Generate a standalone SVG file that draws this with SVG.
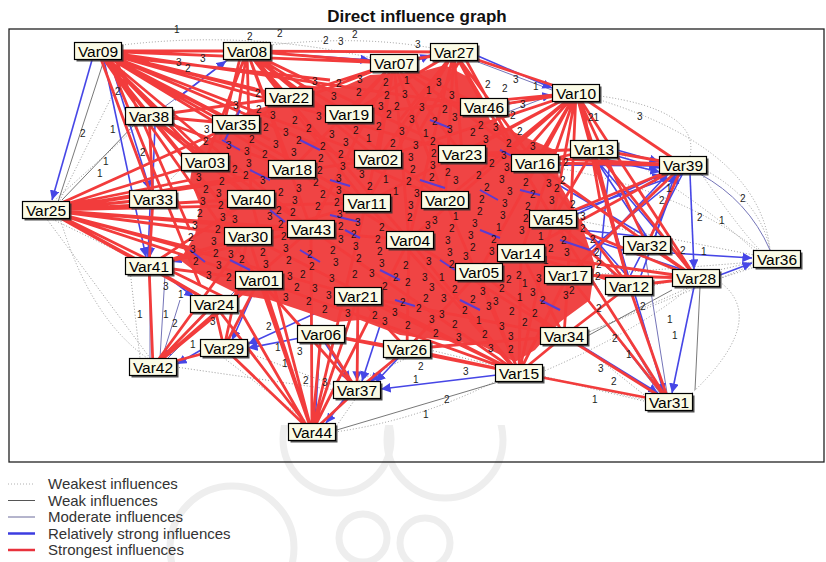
<svg xmlns="http://www.w3.org/2000/svg" width="826" height="562" viewBox="0 0 826 562">
<style>
.s5{fill:none;stroke:#f23c3c;stroke-width:2.8}
.s4{fill:none;stroke:#4646e6;stroke-width:1.6}
.s3{fill:none;stroke:#7474b8;stroke-width:1}
.s2{fill:none;stroke:#555;stroke-width:.8}
.s1{fill:none;stroke:#9a9a9a;stroke-width:1;stroke-dasharray:1 2}
.cb{fill:none;stroke:#5a3cd2;stroke-width:2}
.n text{font-family:"Liberation Sans",Arial,sans-serif;font-size:10px;fill:#1c1010}
.p text{font-family:"Liberation Sans",Arial,sans-serif;font-size:10px;fill:#222}
.sh{fill:#333;opacity:.85}
.bx{fill:#fbfbe6;stroke:#000;stroke-width:1.2}
.lb{font-family:"Liberation Sans",Arial,sans-serif;font-size:15.5px;fill:#000;text-anchor:middle}
.lg{font-family:"Liberation Sans",Arial,sans-serif;font-size:15px;fill:#333}
.wm{fill:none;stroke:#eeeeee;stroke-width:7}
</style>
<defs>
<marker id="ab" viewBox="0 0 10 10" refX="10" refY="5" markerWidth="6" markerHeight="6" orient="auto"><path d="M0 0L10 5L0 10z" fill="#4646e6"/></marker>
<clipPath id="wc"><rect x="0" y="425" width="826" height="137"/></clipPath>
</defs>
<rect width="826" height="562" fill="#fff"/>
<g id="watermark" clip-path="url(#wc)">
<circle class="wm" cx="337" cy="439" r="54"/>
<circle class="wm" cx="445" cy="440" r="58"/>
<circle class="wm" cx="363" cy="538" r="24"/>
<circle class="wm" cx="425" cy="543" r="25"/>
<circle class="wm" cx="232" cy="548" r="62"/>
</g>
<text x="417" y="22" font-family="Liberation Sans,Arial,sans-serif" font-size="17" font-weight="bold" text-anchor="middle" fill="#111">Direct influence graph</text>
<rect x="9" y="29" width="815" height="433" fill="none" stroke="#222" stroke-width="1.3"/>
<g id="connectors">
<g id="weakest">
<path class="s1" d="M46 218L150 358M50 218L140 262M140 124L55 200M130 60L60 200M651 286L753 262M590 275L754 262M575 220L754 255M617 152Q700 200 756 252M558 168Q680 190 758 250M586 333L755 264M700 172Q740 230 760 250M705 170Q760 200 770 250M542 376L646 400M500 280L648 398M430 350L648 402M335 428L356 398M335 432Q420 420 498 380M310 424L220 355M176 367L335 390M246 352L336 386M122 45Q250 30 372 58M270 45Q360 35 432 48M600 96Q700 110 690 156M600 100Q760 150 770 250M542 372Q640 330 690 287M720 282Q770 320 690 395M60 218Q90 320 150 360M240 110L150 200M700 285L770 262M560 345L690 287M420 352L356 382M130 270L140 358"/>
</g>
<g id="weak">
<path class="s2" d="M135 124L62 200M104 60L58 202M160 200L60 208M330 432L505 380M580 340L672 290M700 287L695 390"/>
</g>
<g id="moderate">
<path class="s3" d="M700 174Q748 200 770 250M645 254L667 393M575 284L660 393M560 225L662 395M500 115L552 95M478 62L552 90M410 72L470 100M160 110L228 60M150 270L150 358M165 275L160 358M180 300L162 358M236 290L166 360"/>
</g>
<g id="relatively-strong">
<line class="s4" x1="92" y1="60" x2="52" y2="200" marker-end="url(#ab)"/>
<line class="s4" x1="104" y1="60" x2="146" y2="257" marker-end="url(#ab)"/>
<line class="s4" x1="110" y1="60" x2="150" y2="190" marker-end="url(#ab)"/>
<line class="s4" x1="155" y1="125" x2="150" y2="257" marker-end="url(#ab)"/>
<line class="s4" x1="150" y1="208" x2="148" y2="257" marker-end="url(#ab)"/>
<line class="s4" x1="205" y1="313" x2="162" y2="358" marker-end="url(#ab)"/>
<line class="s4" x1="201" y1="350" x2="177" y2="364" marker-end="url(#ab)"/>
<line class="s4" x1="230" y1="240" x2="172" y2="262" marker-end="url(#ab)"/>
<line class="s4" x1="165" y1="275" x2="194" y2="297" marker-end="url(#ab)"/>
<line class="s4" x1="240" y1="288" x2="237" y2="297" marker-end="url(#ab)"/>
<line class="s4" x1="300" y1="338" x2="248" y2="348" marker-end="url(#ab)"/>
<line class="s4" x1="340" y1="302" x2="248" y2="344" marker-end="url(#ab)"/>
<line class="s4" x1="255" y1="289" x2="232" y2="340" marker-end="url(#ab)"/>
<line class="s4" x1="325" y1="343" x2="350" y2="381" marker-end="url(#ab)"/>
<line class="s4" x1="395" y1="358" x2="370" y2="382" marker-end="url(#ab)"/>
<line class="s4" x1="358" y1="305" x2="357" y2="381" marker-end="url(#ab)"/>
<line class="s4" x1="405" y1="249" x2="362" y2="381" marker-end="url(#ab)"/>
<line class="s4" x1="470" y1="281" x2="376" y2="382" marker-end="url(#ab)"/>
<line class="s4" x1="497" y1="375" x2="381" y2="389" marker-end="url(#ab)"/>
<line class="s4" x1="320" y1="343" x2="315" y2="423" marker-end="url(#ab)"/>
<line class="s4" x1="345" y1="398" x2="326" y2="423" marker-end="url(#ab)"/>
<line class="s4" x1="580" y1="345" x2="658" y2="393" marker-end="url(#ab)"/>
<line class="s4" x1="635" y1="295" x2="664" y2="393" marker-end="url(#ab)"/>
<line class="s4" x1="694" y1="287" x2="672" y2="393" marker-end="url(#ab)"/>
<line class="s4" x1="671" y1="253" x2="752" y2="258" marker-end="url(#ab)"/>
<line class="s4" x1="720" y1="275" x2="752" y2="263" marker-end="url(#ab)"/>
<line class="s4" x1="690" y1="174" x2="694" y2="269" marker-end="url(#ab)"/>
<line class="s4" x1="617" y1="150" x2="659" y2="162" marker-end="url(#ab)"/>
<line class="s4" x1="617" y1="156" x2="659" y2="168" marker-end="url(#ab)"/>
<line class="s4" x1="600" y1="158" x2="660" y2="172" marker-end="url(#ab)"/>
<line class="s4" x1="558" y1="165" x2="659" y2="166" marker-end="url(#ab)"/>
<line class="s4" x1="575" y1="215" x2="662" y2="174" marker-end="url(#ab)"/>
<line class="s4" x1="580" y1="267" x2="668" y2="174" marker-end="url(#ab)"/>
<line class="s4" x1="655" y1="237" x2="675" y2="174" marker-end="url(#ab)"/>
<line class="s4" x1="640" y1="278" x2="678" y2="174" marker-end="url(#ab)"/>
<line class="s4" x1="478" y1="56" x2="552" y2="88" marker-end="url(#ab)"/>
<line class="s4" x1="508" y1="104" x2="552" y2="95" marker-end="url(#ab)"/>
<line class="s4" x1="418" y1="60" x2="430" y2="55" marker-end="url(#ab)"/>
<line class="s4" x1="271" y1="53" x2="370" y2="60" marker-end="url(#ab)"/>
<line class="s4" x1="175" y1="100" x2="226" y2="61" marker-end="url(#ab)"/>
<path class="s4" d="M594 157L647 237M594 157L629 278M594 157L690 270M535 171L629 278M535 171L647 237M553 227L647 237M553 227L690 272M683 173L629 278M683 173L568 267M683 173L553 219M610 160L600 260M540 200L620 280"/>
</g>
<polygon id="dense-core" points="215,135 250,110 275,105 300,85 340,88 370,75 420,72 445,65 470,78 490,120 520,135 555,150 560,185 575,210 585,235 595,265 590,300 560,322 535,350 515,362 480,345 440,340 400,335 360,320 335,322 300,310 270,300 240,295 220,285 200,275 180,260 195,235 200,205 190,180 195,150" fill="#f04444"/>
<g id="strongest">
<path class="s5" d="M98 51L247 51M98 51L289 97M98 51L349 114M98 51L236 124M98 51L292 169M98 51L378 159M98 51L205 162M98 51L251 199M98 51L366 203M98 51L311 229M98 51L153 199M98 51L248 236M98 51L394 63M98 51L149 116M98 51L462 154M98 51L445 200M98 51L409 240M98 51L259 280M98 51L484 107M110 56L330 80M112 58L270 140M115 58L190 230M108 58L200 285"/>
<path class="s5" d="M46 210L153 199M46 210L205 162M46 210L251 199M46 210L248 236M46 210L311 229M46 210L149 266M46 210L259 280M46 210L292 169M46 210L236 124M46 210L214 304M46 210L366 203M46 210L409 240M46 210L358 296M46 210L378 159M60 214L200 250M60 206L190 180M60 216L230 300"/>
<path class="s5" d="M247 51L394 63M247 51L289 97M247 51L349 114M247 51L236 124M247 51L292 169M247 51L378 159M247 51L366 203M247 51L251 199M247 51L205 162M247 51L311 229M247 51L462 154M247 51L445 200M247 51L454 52M247 51L409 240M255 58L330 150M240 58L220 140"/>
<path class="s5" d="M394 63L349 114M394 63L289 97M394 63L378 159M394 63L292 169M394 63L366 203M394 63L462 154M394 63L445 200M394 63L409 240M394 63L311 229M394 63L484 107M394 63L236 124M394 63L454 52M394 63L535 163"/>
<path class="s5" d="M454 52L484 107M454 52L462 154M454 52L378 159M454 52L445 200M454 52L349 114M454 52L366 203M454 52L576 93M454 52L535 163M454 52L409 240M454 52L553 219M460 60L420 130M448 60L400 120M466 60L510 140"/>
<path class="s5" d="M576 93L484 107M576 93L462 154M576 93L535 163M576 93L594 149M576 93L445 200M576 93L553 219M576 93L683 165M576 93L521 253M576 93L378 159M576 93L349 114M576 93L409 240M576 93L479 272M576 93L568 275M576 93L647 245M576 93L366 203M576 93L629 286M570 100L500 180M582 100L600 200"/>
<path class="s5" d="M149 116L236 124M149 116L205 162M149 116L292 169M149 116L251 199M149 116L153 199M149 116L289 97M149 116L248 236M149 116L311 229"/>
<path class="s5" d="M149 266L153 367M149 266L248 236M149 266L259 280M149 266L311 229M149 266L214 304M149 266L251 199M149 266L153 199M149 266L366 203"/>
<path class="s5" d="M153 367L214 304M153 367L259 280M153 367L248 236M153 367L224 348M153 367L311 229"/>
<path class="s5" d="M312 432L214 304M312 432L259 280M312 432L248 236M312 432L321 334M312 432L358 296M312 432L311 229M312 432L357 390M312 432L224 348M312 432L409 240M312 432L251 199M312 432L366 203M306 425L240 310"/>
<path class="s5" d="M519 373L564 336M519 373L479 272M519 373L409 240M519 373L521 253M519 373L568 275M519 373L358 296M519 373L407 349M519 373L321 334M519 373L366 203M519 373L445 200M519 373L259 280M519 373L669 402M519 373L553 219M519 373L311 229M519 373L248 236M512 366L470 320"/>
<path class="s5" d="M669 402L564 336M669 402L629 286M669 402L568 275M669 402L553 219"/>
<path class="s5" d="M696 278L647 245M696 278L629 286M696 278L568 275M696 278L594 149M696 278L535 163M696 278L553 219M696 278L521 253M696 278L576 93"/>
<path class="s5" d="M683 165L594 149M683 165L535 163M683 165L553 219M683 165L462 154M683 165L647 245M683 165L568 275M683 165L521 253"/>
<path class="s5" d="M564 336L568 275M564 336L629 286M564 336L479 272M564 336L521 253M564 336L407 349M564 336L409 240M564 336L358 296"/>
<path class="s5" d="M357 390L321 334M357 390L407 349M357 390L358 296M357 390L259 280M407 349L321 334M407 349L358 296M407 349L409 240M407 349L479 272M224 348L214 304M224 348L259 280M224 348L248 236M629 286L594 149M629 286L535 163M629 286L553 219M629 286L521 253M594 149L535 163M594 149L462 154M594 149L553 219"/>
</g>
<path class="cb" d="M330 215L360 222M345 230L360 238M420 180L445 188M480 230L500 238M300 250L320 262M520 190L540 195M250 170L270 180M560 240L590 250M380 270L400 280M460 300L480 310M230 260L250 270M300 140L320 150M430 120L450 128M500 150L520 160M222 140L240 150M270 210L285 222M395 300L415 306M540 300L560 310M440 260L455 270M330 180L350 186M480 190L498 200M240 110L225 140M190 250L205 262"/>
</g>
<g id="edge-labels">
<g class="n">
<text x="312" y="85">3</text><text x="336" y="87">2</text><text x="357" y="83">3</text><text x="383" y="86">2</text><text x="404" y="84">1</text><text x="436" y="86">3</text>
<text x="255" y="97">2</text><text x="331" y="100">3</text><text x="356" y="96">2</text><text x="384" y="99">2</text><text x="402" y="98">3</text><text x="426" y="94">1</text><text x="449" y="99">3</text>
<text x="233" y="109">3</text><text x="256" y="113">2</text><text x="378" y="110">3</text><text x="394" y="110">2</text><text x="419" y="111">3</text><text x="442" y="113">2</text><text x="520" y="108">3</text>
<text x="270" y="119">3</text><text x="292" y="124">2</text><text x="316" y="120">3</text><text x="386" y="118">2</text><text x="409" y="123">3</text><text x="432" y="125">2</text><text x="452" y="121">3</text><text x="478" y="129">2</text><text x="510" y="119">2</text>
<text x="204" y="133">3</text><text x="263" y="131">2</text><text x="283" y="136">3</text><text x="306" y="132">2</text><text x="329" y="138">3</text><text x="353" y="134">2</text><text x="376" y="130">2</text><text x="399" y="135">3</text><text x="423" y="137">1</text><text x="447" y="133">3</text><text x="470" y="136">2</text><text x="493" y="131">3</text><text x="517" y="135">2</text>
<text x="203" y="145">2</text><text x="226" y="149">3</text><text x="249" y="143">2</text><text x="273" y="148">3</text><text x="296" y="144">2</text><text x="320" y="150">2</text><text x="343" y="146">3</text><text x="366" y="142">1</text><text x="390" y="147">2</text><text x="413" y="149">3</text><text x="430" y="145">2</text><text x="483" y="143">3</text><text x="506" y="147">2</text><text x="530" y="150">3</text>
<text x="244" y="155">3</text><text x="262" y="158">2</text><text x="291" y="156">3</text><text x="318" y="162">2</text><text x="338" y="158">2</text><text x="408" y="161">3</text><text x="431" y="157">2</text><text x="501" y="159">3</text><text x="563" y="166">2</text>
<text x="232" y="173">2</text><text x="246" y="167">3</text><text x="317" y="174">2</text><text x="340" y="170">3</text><text x="410" y="173">2</text><text x="430" y="169">3</text><text x="445" y="176">2</text><text x="489" y="167">2</text><text x="504" y="171">3</text>
<text x="196" y="181">3</text><text x="219" y="185">2</text><text x="243" y="179">2</text><text x="260" y="184">3</text><text x="313" y="186">2</text><text x="336" y="182">3</text><text x="359" y="178">3</text><text x="383" y="183">1</text><text x="406" y="185">2</text><text x="429" y="181">2</text><text x="453" y="184">3</text><text x="476" y="179">2</text><text x="499" y="183">3</text><text x="523" y="186">2</text><text x="546" y="187">3</text><text x="560" y="184">2</text>
<text x="203" y="193">2</text><text x="216" y="197">3</text><text x="278" y="196">2</text><text x="296" y="192">3</text><text x="320" y="198">2</text><text x="336" y="194">3</text><text x="367" y="190">2</text><text x="393" y="195">1</text><text x="414" y="197">3</text><text x="484" y="191">2</text><text x="507" y="195">3</text><text x="530" y="198">2</text><text x="554" y="192">2</text>
<text x="200" y="205">3</text><text x="218" y="209">2</text><text x="292" y="204">3</text><text x="315" y="210">2</text><text x="334" y="206">2</text><text x="408" y="209">3</text><text x="479" y="203">2</text><text x="502" y="207">3</text><text x="525" y="210">2</text><text x="549" y="204">3</text><text x="570" y="208">2</text>
<text x="197" y="217">2</text><text x="220" y="221">3</text><text x="267" y="220">3</text><text x="276" y="214">2</text><text x="290" y="216">2</text><text x="337" y="218">3</text><text x="407" y="221">2</text><text x="432" y="224">3</text><text x="453" y="220">1</text><text x="477" y="215">2</text><text x="500" y="219">3</text><text x="523" y="222">2</text><text x="580" y="220">3</text>
<text x="192" y="229">3</text><text x="215" y="233">2</text><text x="232" y="223">3</text><text x="278" y="228">2</text><text x="338" y="230">2</text><text x="355" y="226">3</text><text x="379" y="231">2</text><text x="425" y="229">3</text><text x="449" y="232">2</text><text x="472" y="227">3</text><text x="496" y="231">1</text><text x="519" y="234">3</text><text x="580" y="232">2</text>
<text x="188" y="241">2</text><text x="211" y="245">3</text><text x="281" y="240">2</text><text x="338" y="243">3</text><text x="351" y="238">2</text><text x="375" y="243">2</text><text x="445" y="244">3</text><text x="468" y="239">3</text><text x="491" y="243">2</text><text x="538" y="240">1</text><text x="561" y="244">2</text><text x="590" y="243">2</text>
<text x="190" y="253">3</text><text x="213" y="257">2</text><text x="228" y="258">3</text><text x="260" y="256">2</text><text x="283" y="252">3</text><text x="307" y="258">2</text><text x="330" y="254">2</text><text x="353" y="250">3</text><text x="377" y="255">2</text><text x="447" y="256">3</text><text x="470" y="251">2</text><text x="489" y="255">3</text><text x="548" y="252">2</text><text x="564" y="256">3</text><text x="594" y="256">2</text>
<text x="193" y="265">2</text><text x="216" y="269">3</text><text x="239" y="263">2</text><text x="263" y="268">3</text><text x="286" y="264">2</text><text x="309" y="270">2</text><text x="333" y="266">3</text><text x="356" y="262">2</text><text x="379" y="267">3</text><text x="403" y="269">2</text><text x="426" y="265">3</text><text x="449" y="268">2</text><text x="463" y="260">3</text><text x="506" y="283">2</text><text x="543" y="264">1</text><text x="596" y="268">2</text>
<text x="206" y="279">3</text><text x="226" y="281">2</text><text x="287" y="280">3</text><text x="300" y="278">2</text><text x="329" y="282">3</text><text x="352" y="278">2</text><text x="369" y="277">3</text><text x="393" y="281">2</text><text x="422" y="281">3</text><text x="439" y="281">1</text><text x="516" y="279">2</text><text x="536" y="282">3</text><text x="595" y="280">2</text>
<text x="294" y="291">2</text><text x="312" y="292">3</text><text x="382" y="290">2</text><text x="405" y="286">2</text><text x="429" y="291">3</text><text x="452" y="293">2</text><text x="480" y="295">3</text><text x="499" y="292">2</text><text x="522" y="287">1</text><text x="530" y="296">3</text><text x="569" y="294">2</text>
<text x="283" y="301">3</text><text x="306" y="305">2</text><text x="326" y="299">3</text><text x="400" y="306">2</text><text x="423" y="302">2</text><text x="441" y="302">3</text><text x="470" y="303">2</text><text x="493" y="305">3</text><text x="517" y="301">1</text><text x="540" y="304">2</text><text x="563" y="299">3</text>
<text x="322" y="313">2</text><text x="345" y="317">3</text><text x="372" y="319">2</text><text x="392" y="316">3</text><text x="416" y="312">2</text><text x="439" y="318">3</text><text x="462" y="314">2</text><text x="486" y="310">3</text><text x="509" y="315">2</text><text x="532" y="317">2</text>
<text x="382" y="325">3</text><text x="405" y="329">2</text><text x="429" y="323">3</text><text x="452" y="328">2</text><text x="476" y="324">1</text><text x="499" y="330">3</text><text x="522" y="326">2</text>
<text x="433" y="337">2</text><text x="456" y="341">3</text><text x="482" y="338">2</text><text x="508" y="340">3</text>
<text x="488" y="352">3</text><text x="508" y="353">2</text>
</g>
<g class="p">
<text x="174" y="33">1</text><text x="247" y="40">2</text><text x="277" y="37">2</text><text x="323" y="44">2</text><text x="338" y="45">3</text><text x="352" y="38">2</text><text x="415" y="48">3</text><text x="200" y="62">3</text><text x="176" y="66">3</text><text x="185" y="72">2</text><text x="80" y="137">2</text><text x="110" y="133">1</text><text x="115" y="95">2</text><text x="140" y="156">2</text><text x="103" y="165">1</text><text x="97" y="177">1</text>
<text x="637" y="120">3</text><text x="588" y="121">21</text><text x="740" y="202">2</text><text x="666" y="192">1</text><text x="659" y="204">2</text><text x="697" y="221">2</text><text x="719" y="224">1</text><text x="680" y="254">2</text><text x="701" y="255">1</text><text x="667" y="323">1</text><text x="672" y="339">1</text><text x="612" y="342">2</text><text x="626" y="358">1</text><text x="598" y="372">3</text><text x="611" y="385">2</text><text x="592" y="403">1</text>
<text x="444" y="403">2</text><text x="423" y="418">1</text><text x="463" y="375">3</text><text x="418" y="370">2</text><text x="413" y="383">1</text><text x="640" y="310">2</text><text x="596" y="312">2</text><text x="137" y="318">1</text><text x="163" y="318">1</text><text x="172" y="327">2</text><text x="178" y="298">1</text><text x="163" y="290">3</text><text x="190" y="348">1</text><text x="266" y="330">2</text><text x="275" y="351">1</text><text x="282" y="367">1</text><text x="303" y="384">2</text><text x="322" y="386">3</text><text x="297" y="355">3</text><text x="210" y="325">3</text><text x="485" y="88">2</text><text x="502" y="92">2</text><text x="513" y="83">3</text><text x="533" y="90">1</text>
</g>
</g>
<g id="nodes">
<g id="Var09" transform="translate(98,51)"><rect class="sh" x="-21.5" y="-6.5" width="47" height="17"/><rect class="bx" x="-23.5" y="-8.5" width="47" height="17"/><text class="lb" y="5.5">Var09</text></g>
<g id="Var08" transform="translate(247,51)"><rect class="sh" x="-21.5" y="-6.5" width="47" height="17"/><rect class="bx" x="-23.5" y="-8.5" width="47" height="17"/><text class="lb" y="5.5">Var08</text></g>
<g id="Var07" transform="translate(394,63)"><rect class="sh" x="-21.5" y="-6.5" width="47" height="17"/><rect class="bx" x="-23.5" y="-8.5" width="47" height="17"/><text class="lb" y="5.5">Var07</text></g>
<g id="Var27" transform="translate(454,52)"><rect class="sh" x="-21.5" y="-6.5" width="47" height="17"/><rect class="bx" x="-23.5" y="-8.5" width="47" height="17"/><text class="lb" y="5.5">Var27</text></g>
<g id="Var10" transform="translate(576,93)"><rect class="sh" x="-21.5" y="-6.5" width="47" height="17"/><rect class="bx" x="-23.5" y="-8.5" width="47" height="17"/><text class="lb" y="5.5">Var10</text></g>
<g id="Var46" transform="translate(484,107)"><rect class="sh" x="-21.5" y="-6.5" width="47" height="17"/><rect class="bx" x="-23.5" y="-8.5" width="47" height="17"/><text class="lb" y="5.5">Var46</text></g>
<g id="Var22" transform="translate(289,97)"><rect class="sh" x="-21.5" y="-6.5" width="47" height="17"/><rect class="bx" x="-23.5" y="-8.5" width="47" height="17"/><text class="lb" y="5.5">Var22</text></g>
<g id="Var19" transform="translate(349,114)"><rect class="sh" x="-21.5" y="-6.5" width="47" height="17"/><rect class="bx" x="-23.5" y="-8.5" width="47" height="17"/><text class="lb" y="5.5">Var19</text></g>
<g id="Var38" transform="translate(149,116)"><rect class="sh" x="-21.5" y="-6.5" width="47" height="17"/><rect class="bx" x="-23.5" y="-8.5" width="47" height="17"/><text class="lb" y="5.5">Var38</text></g>
<g id="Var35" transform="translate(236,124)"><rect class="sh" x="-21.5" y="-6.5" width="47" height="17"/><rect class="bx" x="-23.5" y="-8.5" width="47" height="17"/><text class="lb" y="5.5">Var35</text></g>
<g id="Var03" transform="translate(205,162)"><rect class="sh" x="-21.5" y="-6.5" width="47" height="17"/><rect class="bx" x="-23.5" y="-8.5" width="47" height="17"/><text class="lb" y="5.5">Var03</text></g>
<g id="Var18" transform="translate(292,169)"><rect class="sh" x="-21.5" y="-6.5" width="47" height="17"/><rect class="bx" x="-23.5" y="-8.5" width="47" height="17"/><text class="lb" y="5.5">Var18</text></g>
<g id="Var02" transform="translate(378,159)"><rect class="sh" x="-21.5" y="-6.5" width="47" height="17"/><rect class="bx" x="-23.5" y="-8.5" width="47" height="17"/><text class="lb" y="5.5">Var02</text></g>
<g id="Var23" transform="translate(462,154)"><rect class="sh" x="-21.5" y="-6.5" width="47" height="17"/><rect class="bx" x="-23.5" y="-8.5" width="47" height="17"/><text class="lb" y="5.5">Var23</text></g>
<g id="Var16" transform="translate(535,163)"><rect class="sh" x="-21.5" y="-6.5" width="47" height="17"/><rect class="bx" x="-23.5" y="-8.5" width="47" height="17"/><text class="lb" y="5.5">Var16</text></g>
<g id="Var13" transform="translate(594,149)"><rect class="sh" x="-21.5" y="-6.5" width="47" height="17"/><rect class="bx" x="-23.5" y="-8.5" width="47" height="17"/><text class="lb" y="5.5">Var13</text></g>
<g id="Var39" transform="translate(683,165)"><rect class="sh" x="-21.5" y="-6.5" width="47" height="17"/><rect class="bx" x="-23.5" y="-8.5" width="47" height="17"/><text class="lb" y="5.5">Var39</text></g>
<g id="Var20" transform="translate(445,200)"><rect class="sh" x="-21.5" y="-6.5" width="47" height="17"/><rect class="bx" x="-23.5" y="-8.5" width="47" height="17"/><text class="lb" y="5.5">Var20</text></g>
<g id="Var45" transform="translate(553,219)"><rect class="sh" x="-21.5" y="-6.5" width="47" height="17"/><rect class="bx" x="-23.5" y="-8.5" width="47" height="17"/><text class="lb" y="5.5">Var45</text></g>
<g id="Var25" transform="translate(46,210)"><rect class="sh" x="-21.5" y="-6.5" width="47" height="17"/><rect class="bx" x="-23.5" y="-8.5" width="47" height="17"/><text class="lb" y="5.5">Var25</text></g>
<g id="Var33" transform="translate(153,199)"><rect class="sh" x="-21.5" y="-6.5" width="47" height="17"/><rect class="bx" x="-23.5" y="-8.5" width="47" height="17"/><text class="lb" y="5.5">Var33</text></g>
<g id="Var40" transform="translate(251,199)"><rect class="sh" x="-21.5" y="-6.5" width="47" height="17"/><rect class="bx" x="-23.5" y="-8.5" width="47" height="17"/><text class="lb" y="5.5">Var40</text></g>
<g id="Var11" transform="translate(367,203)"><rect class="sh" x="-21.5" y="-6.5" width="47" height="17"/><rect class="bx" x="-23.5" y="-8.5" width="47" height="17"/><text class="lb" y="5.5">Var11</text></g>
<g id="Var30" transform="translate(248,236)"><rect class="sh" x="-21.5" y="-6.5" width="47" height="17"/><rect class="bx" x="-23.5" y="-8.5" width="47" height="17"/><text class="lb" y="5.5">Var30</text></g>
<g id="Var43" transform="translate(311,229)"><rect class="sh" x="-21.5" y="-6.5" width="47" height="17"/><rect class="bx" x="-23.5" y="-8.5" width="47" height="17"/><text class="lb" y="5.5">Var43</text></g>
<g id="Var04" transform="translate(410,240)"><rect class="sh" x="-21.5" y="-6.5" width="47" height="17"/><rect class="bx" x="-23.5" y="-8.5" width="47" height="17"/><text class="lb" y="5.5">Var04</text></g>
<g id="Var41" transform="translate(149,266)"><rect class="sh" x="-21.5" y="-6.5" width="47" height="17"/><rect class="bx" x="-23.5" y="-8.5" width="47" height="17"/><text class="lb" y="5.5">Var41</text></g>
<g id="Var01" transform="translate(259,280)"><rect class="sh" x="-21.5" y="-6.5" width="47" height="17"/><rect class="bx" x="-23.5" y="-8.5" width="47" height="17"/><text class="lb" y="5.5">Var01</text></g>
<g id="Var24" transform="translate(214,304)"><rect class="sh" x="-21.5" y="-6.5" width="47" height="17"/><rect class="bx" x="-23.5" y="-8.5" width="47" height="17"/><text class="lb" y="5.5">Var24</text></g>
<g id="Var21" transform="translate(358,296)"><rect class="sh" x="-21.5" y="-6.5" width="47" height="17"/><rect class="bx" x="-23.5" y="-8.5" width="47" height="17"/><text class="lb" y="5.5">Var21</text></g>
<g id="Var06" transform="translate(321,334)"><rect class="sh" x="-21.5" y="-6.5" width="47" height="17"/><rect class="bx" x="-23.5" y="-8.5" width="47" height="17"/><text class="lb" y="5.5">Var06</text></g>
<g id="Var29" transform="translate(224,348)"><rect class="sh" x="-21.5" y="-6.5" width="47" height="17"/><rect class="bx" x="-23.5" y="-8.5" width="47" height="17"/><text class="lb" y="5.5">Var29</text></g>
<g id="Var42" transform="translate(153,367)"><rect class="sh" x="-21.5" y="-6.5" width="47" height="17"/><rect class="bx" x="-23.5" y="-8.5" width="47" height="17"/><text class="lb" y="5.5">Var42</text></g>
<g id="Var37" transform="translate(357,390)"><rect class="sh" x="-21.5" y="-6.5" width="47" height="17"/><rect class="bx" x="-23.5" y="-8.5" width="47" height="17"/><text class="lb" y="5.5">Var37</text></g>
<g id="Var44" transform="translate(312,432)"><rect class="sh" x="-21.5" y="-6.5" width="47" height="17"/><rect class="bx" x="-23.5" y="-8.5" width="47" height="17"/><text class="lb" y="5.5">Var44</text></g>
<g id="Var26" transform="translate(407,349)"><rect class="sh" x="-21.5" y="-6.5" width="47" height="17"/><rect class="bx" x="-23.5" y="-8.5" width="47" height="17"/><text class="lb" y="5.5">Var26</text></g>
<g id="Var32" transform="translate(647,245)"><rect class="sh" x="-21.5" y="-6.5" width="47" height="17"/><rect class="bx" x="-23.5" y="-8.5" width="47" height="17"/><text class="lb" y="5.5">Var32</text></g>
<g id="Var36" transform="translate(777,259)"><rect class="sh" x="-21.5" y="-6.5" width="47" height="17"/><rect class="bx" x="-23.5" y="-8.5" width="47" height="17"/><text class="lb" y="5.5">Var36</text></g>
<g id="Var14" transform="translate(521,253)"><rect class="sh" x="-21.5" y="-6.5" width="47" height="17"/><rect class="bx" x="-23.5" y="-8.5" width="47" height="17"/><text class="lb" y="5.5">Var14</text></g>
<g id="Var05" transform="translate(479,272)"><rect class="sh" x="-21.5" y="-6.5" width="47" height="17"/><rect class="bx" x="-23.5" y="-8.5" width="47" height="17"/><text class="lb" y="5.5">Var05</text></g>
<g id="Var17" transform="translate(568,275)"><rect class="sh" x="-21.5" y="-6.5" width="47" height="17"/><rect class="bx" x="-23.5" y="-8.5" width="47" height="17"/><text class="lb" y="5.5">Var17</text></g>
<g id="Var12" transform="translate(629,286)"><rect class="sh" x="-21.5" y="-6.5" width="47" height="17"/><rect class="bx" x="-23.5" y="-8.5" width="47" height="17"/><text class="lb" y="5.5">Var12</text></g>
<g id="Var28" transform="translate(696,278)"><rect class="sh" x="-21.5" y="-6.5" width="47" height="17"/><rect class="bx" x="-23.5" y="-8.5" width="47" height="17"/><text class="lb" y="5.5">Var28</text></g>
<g id="Var34" transform="translate(564,336)"><rect class="sh" x="-21.5" y="-6.5" width="47" height="17"/><rect class="bx" x="-23.5" y="-8.5" width="47" height="17"/><text class="lb" y="5.5">Var34</text></g>
<g id="Var15" transform="translate(519,373)"><rect class="sh" x="-21.5" y="-6.5" width="47" height="17"/><rect class="bx" x="-23.5" y="-8.5" width="47" height="17"/><text class="lb" y="5.5">Var15</text></g>
<g id="Var31" transform="translate(669,402)"><rect class="sh" x="-21.5" y="-6.5" width="47" height="17"/><rect class="bx" x="-23.5" y="-8.5" width="47" height="17"/><text class="lb" y="5.5">Var31</text></g>
</g>
<g id="legend">
<line x1="8" y1="484" x2="35" y2="484" stroke="#b0b0b0" stroke-width="1" stroke-dasharray="1 2"/>
<line x1="8" y1="500.5" x2="35" y2="500.5" stroke="#555" stroke-width="1"/>
<line x1="8" y1="517" x2="35" y2="517" stroke="#6a6a9a" stroke-width="1"/>
<line x1="8" y1="533.5" x2="35" y2="533.5" stroke="#3c3ce0" stroke-width="2.5"/>
<line x1="8" y1="550" x2="35" y2="550" stroke="#e8323c" stroke-width="2.5"/>
<text class="lg" x="48" y="489">Weakest influences</text>
<text class="lg" x="48" y="505.5">Weak influences</text>
<text class="lg" x="48" y="522">Moderate influences</text>
<text class="lg" x="48" y="538.5">Relatively strong influences</text>
<text class="lg" x="48" y="555">Strongest influences</text>
</g>
</svg>
